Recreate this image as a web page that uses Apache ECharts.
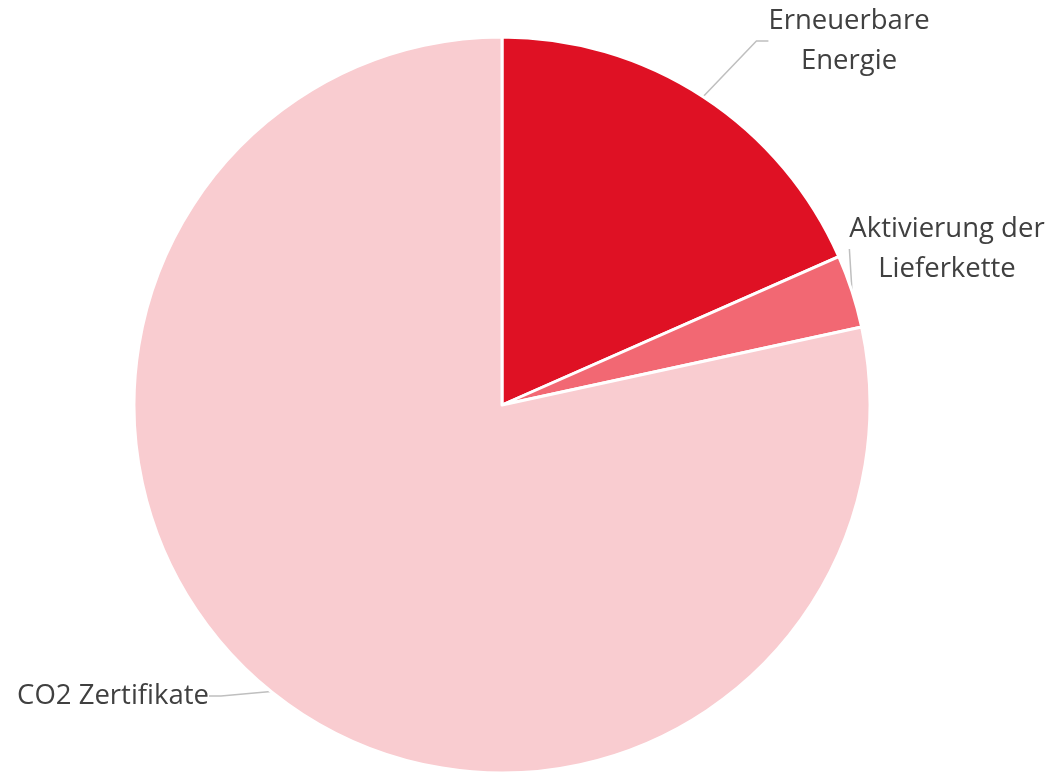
<!DOCTYPE html>
<html>
<head>
<meta charset="utf-8">
<script src="https://cdn.jsdelivr.net/npm/echarts@6/dist/echarts.min.js"></script>
<style>
  html, body { margin: 0; padding: 0; background: #ffffff; }
  #chart { width: 1051px; height: 773px; }
</style>
</head>
<body>
<div id="chart"></div>
<script>
// Cost shares (percent)
const categories = ['Erneuerbare\nEnergie', 'Aktivierung der\nLieferkette', 'CO2 Zertifikate'];
const shares = [18.4, 3.2, 78.4];
const sliceColors = ['#DF1124', '#F26873', '#F9CCD0'];

// Label anchor points (text block placement)
const labelPlacement = [
  { x: 849, y: 41, align: 'center' },
  { x: 947, y: 249, align: 'center' },
  { x: 209, y: 696, align: 'right' }
];

const chart = echarts.init(document.getElementById('chart'), null, { renderer: 'canvas' });

chart.setOption({
  backgroundColor: '#ffffff',
  animation: false,
  series: [{
    type: 'pie',
    center: [502, 405],
    radius: [0, 368],
    startAngle: 90,
    clockwise: true,
    avoidLabelOverlap: false,
    itemStyle: { borderColor: '#ffffff', borderWidth: 3 },
    label: {
      show: true,
      position: 'outside',
      color: '#404040',
      fontFamily: 'Open Sans',
      fontSize: 27.5,
      lineHeight: 40,
      formatter: function (p) {
        return p.name.split('\n').map(function (s) { return '{t|' + s + '}'; }).join('\n');
      },
      rich: {
        t: { fontFamily: 'Open Sans', fontSize: 27.5, lineHeight: 40, color: '#404040', align: 'center' }
      }
    },
    labelLine: {
      show: true,
      length: 20,
      length2: 12,
      lineStyle: { color: '#BFBFBF', width: 1.5 }
    },
    labelLayout: function (params) {
      const p = labelPlacement[params.dataIndex];
      return { x: p.x, y: p.y, align: p.align, verticalAlign: 'middle' };
    },
    data: categories.map(function (name, i) {
      return { name: name, value: shares[i], itemStyle: { color: sliceColors[i] } };
    })
  }]
});
</script>
</body>
</html>
